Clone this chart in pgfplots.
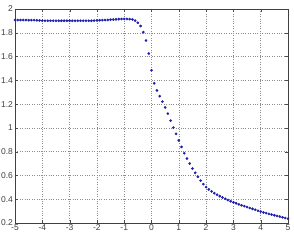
\documentclass[border=0pt]{standalone}
\usepackage{fontspec}
\setmainfont{Liberation Sans}
\usepackage{pgfplots}
\pgfplotsset{compat=1.18}
\definecolor{dotblue}{RGB}{30,30,170}
\begin{document}
\begin{tikzpicture}
\begin{axis}[
  scale only axis,
  width=273pt, height=214pt,
  xmin=-5, xmax=5, ymin=0.2, ymax=2,
  xtick={-5,-4,...,5},
  ytick={0.2,0.4,...,2.01},
  yticklabels={0.2,0.4,0.6,0.8,1,1.2,1.4,1.6,1.8,2},
  /pgf/number format/assume math mode=true,
  tick label style={font=\fontsize{8.5}{9}\selectfont, text=black!75},
  yticklabel style={xshift=1.5pt},
  xticklabel style={yshift=1.5pt},
  tick align=inside,
  major tick length=3pt,
  tick style={black!70},
  grid=major,
  major grid style={black!45, dotted, line width=0.5pt},
  axis line style={black!75, line width=0.6pt},
]
\addplot[only marks, mark=*, mark size=1.15pt, color=dotblue] coordinates {
(-5.0,1.907)(-4.9,1.907)(-4.8,1.907)(-4.7,1.907)(-4.6,1.907)(-4.5,1.906)(-4.4,1.906)(-4.3,1.906)(-4.2,1.905)(-4.1,1.904)
(-4.0,1.902)(-3.9,1.901)(-3.8,1.901)(-3.7,1.901)(-3.6,1.901)(-3.5,1.901)(-3.4,1.901)(-3.3,1.901)(-3.2,1.901)(-3.1,1.901)
(-3.0,1.901)(-2.9,1.901)(-2.8,1.901)(-2.7,1.901)(-2.6,1.901)(-2.5,1.901)(-2.4,1.901)(-2.3,1.901)(-2.2,1.901)(-2.1,1.902)
(-2.0,1.904)(-1.9,1.905)(-1.8,1.906)(-1.7,1.907)(-1.6,1.908)(-1.5,1.910)(-1.4,1.911)(-1.3,1.913)(-1.2,1.915)(-1.1,1.916)
(-1.0,1.916)(-0.9,1.916)(-0.8,1.915)(-0.7,1.912)(-0.6,1.902)(-0.5,1.884)(-0.4,1.857)(-0.3,1.805)(-0.2,1.735)(-0.1,1.625)
(0.0,1.485)(0.1,1.375)(0.2,1.315)(0.3,1.267)(0.4,1.221)(0.5,1.172)(0.6,1.120)(0.7,1.061)(0.8,1.002)(0.9,0.950)
(1.0,0.895)(1.1,0.840)(1.2,0.787)(1.3,0.742)(1.4,0.700)(1.5,0.658)(1.6,0.622)(1.7,0.589)(1.8,0.556)(1.9,0.527)
(2.0,0.502)(2.1,0.482)(2.2,0.466)(2.3,0.451)(2.4,0.438)(2.5,0.426)(2.6,0.415)(2.7,0.404)(2.8,0.393)(2.9,0.383)
(3.0,0.374)(3.1,0.366)(3.2,0.357)(3.3,0.349)(3.4,0.342)(3.5,0.334)(3.6,0.326)(3.7,0.319)(3.8,0.311)(3.9,0.303)
(4.0,0.296)(4.1,0.289)(4.2,0.283)(4.3,0.277)(4.4,0.271)(4.5,0.265)(4.6,0.259)(4.7,0.254)(4.8,0.248)(4.9,0.242)
(5.0,0.236)
};
\end{axis}
\pgfresetboundingbox
\path[use as bounding box] (-15pt,-17pt) rectangle (279pt,223pt);
\end{tikzpicture}
\end{document}
